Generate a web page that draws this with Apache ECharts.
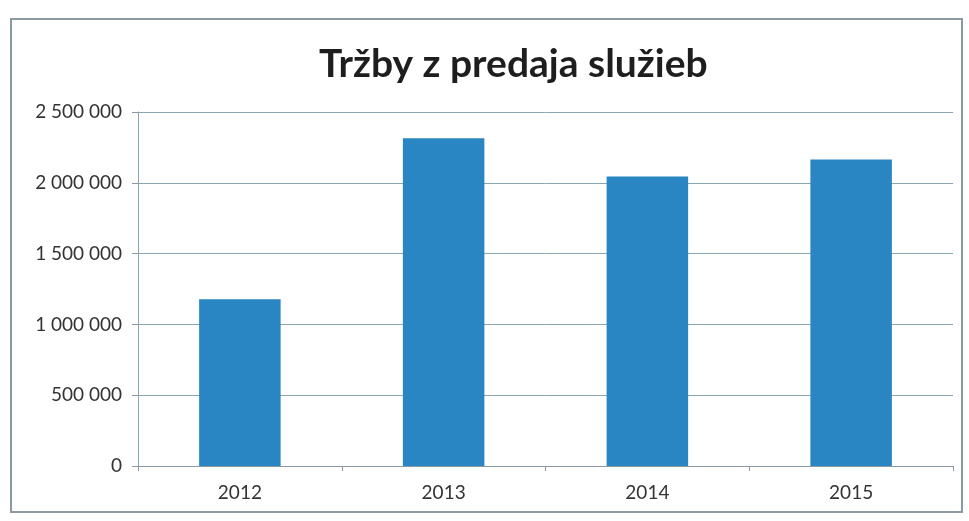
<!DOCTYPE html>
<html>
<head>
<meta charset="utf-8">
<script src="https://cdn.jsdelivr.net/npm/echarts@6/dist/echarts.min.js"></script>
<style>
  html, body { margin: 0; padding: 0; background: #fff; }
  #frame {
    position: absolute; left: 10px; top: 18px; width: 953px; height: 495px;
    border: 2px solid #8a9aa0; box-sizing: border-box;
  }
  #main { position: absolute; left: 0; top: 0; width: 969px; height: 521px; }
</style>
</head>
<body>
<div id="frame"></div>
<div id="main"></div>
<script>
// data
const years = ['2012', '2013', '2014', '2015'];
const sales = [1178000, 2315000, 2045000, 2165000];
const yTicks = [0, 500000, 1000000, 1500000, 2000000, 2500000];

function fmt(v) {
  return String(v).replace(/\B(?=(\d{3})+(?!\d))/g, ' ');
}

const myChart = echarts.init(document.getElementById('main'));
const option = {
  animation: false,
  title: {
    text: 'Tržby z predaja služieb',
    left: 314,
    top: 40,
    textStyle: { fontFamily: 'Lato', fontWeight: 'bold', fontSize: 39, color: '#1e1e1e' }
  },
  grid: { left: 138, right: 16, top: 112, bottom: 55 },
  xAxis: {
    type: 'category',
    data: years,
    axisLine: { lineStyle: { color: '#8a9aa0', width: 1 } },
    axisTick: { show: true, length: 5, lineStyle: { color: '#8a9aa0' } },
    axisLabel: { fontFamily: 'Lato', fontSize: 19, color: '#333', margin: 17 }
  },
  yAxis: {
    type: 'value',
    min: yTicks[0],
    max: yTicks[yTicks.length - 1],
    interval: 500000,
    axisLine: { show: true, lineStyle: { color: '#8aa6b0', width: 1 } },
    axisTick: { show: true, length: 6, inside: false, lineStyle: { color: '#8a9aa0' } },
    splitLine: { lineStyle: { color: '#8aa6b0', width: 1 } },
    axisLabel: { fontFamily: 'Lato', fontSize: 19, color: '#333', margin: 16, formatter: fmt }
  },
  series: [{
    name: 'Tržby',
    type: 'bar',
    data: sales,
    barWidth: '40%',
    itemStyle: { color: '#2a85c3' }
  }]
};
myChart.setOption(option);
</script>
</body>
</html>
